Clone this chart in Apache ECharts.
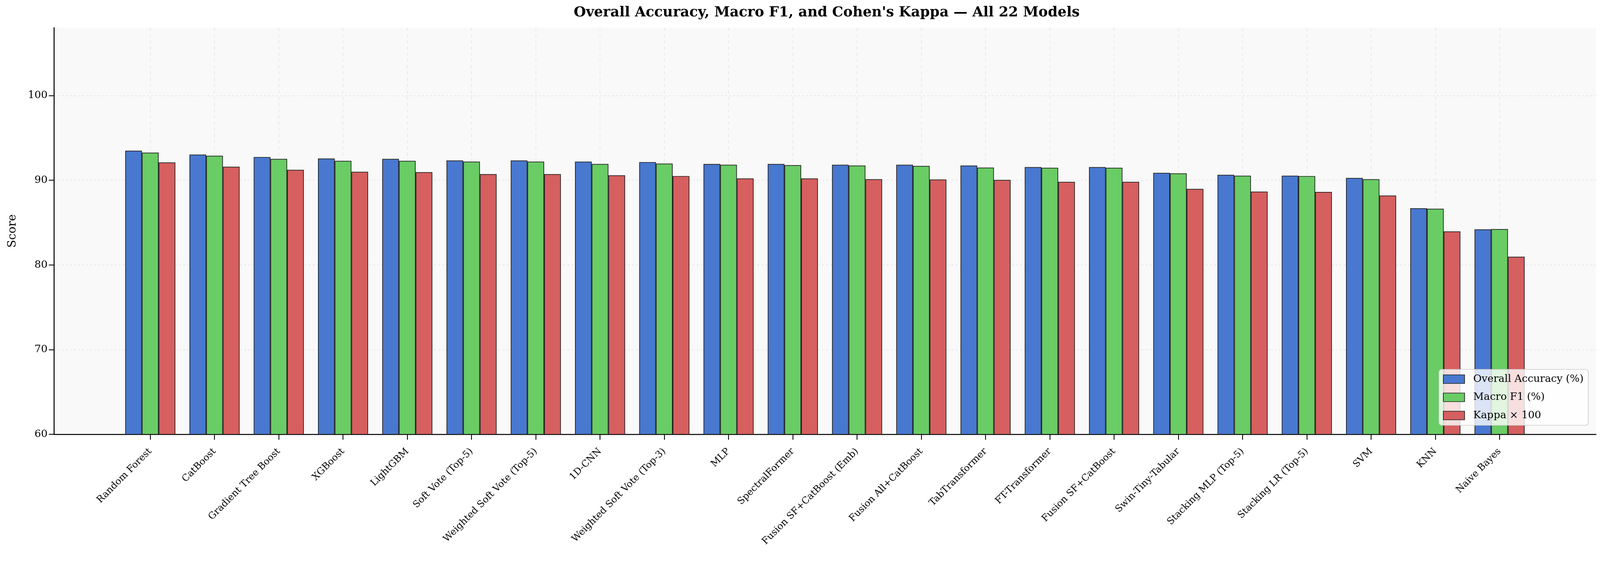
<!DOCTYPE html>
<html>
<head>
<meta charset="utf-8">
<script src="https://cdn.jsdelivr.net/npm/echarts@6/dist/echarts.min.js"></script>
<style>
html,body{margin:0;padding:0;background:#fff;overflow:hidden;}
#chart{width:100vw;height:100vh;}
</style>
</head>
<body>
<div id="chart"></div>
<script>
const models = ['Random Forest','CatBoost','Gradient Tree Boost','XGBoost','LightGBM','Soft Vote (Top-5)','Weighted Soft Vote (Top-5)','1D-CNN','Weighted Soft Vote (Top-3)','MLP','SpectralFormer','Fusion SF+CatBoost (Emb)','Fusion All+CatBoost','TabTransformer','FT-Transformer','Fusion SF+CatBoost','Swin-Tiny-Tabular','Stacking MLP (Top-5)','Stacking LR (Top-5)','SVM','KNN','Naive Bayes'];
const overallAccuracy = [93.48,93.02,92.74,92.56,92.51,92.33,92.33,92.19,92.14,91.91,91.91,91.82,91.82,91.73,91.55,91.55,90.86,90.63,90.53,90.26,86.69,84.20];
const macroF1 = [93.25,92.88,92.51,92.28,92.28,92.19,92.19,91.91,91.96,91.82,91.78,91.73,91.68,91.49,91.46,91.46,90.81,90.53,90.49,90.12,86.63,84.23];
const kappa100 = [92.10,91.59,91.22,90.99,90.95,90.72,90.72,90.58,90.49,90.21,90.21,90.12,90.08,90.03,89.80,89.80,88.97,88.65,88.61,88.19,83.95,80.96];
const yTicks = [60,70,80,90,100];
const seriesNames = ['Overall Accuracy (%)','Macro F1 (%)','Kappa \u00d7 100'];
const colors = ['#4878CF','#6ACC65','#D65F5F'];

const FONT = 'DejaVu Serif';
const cats = [''].concat(models, ['']);
const pad = arr => [null].concat(arr, [null]);
const inner = (idx) => idx > 0 && idx < cats.length - 1;

const el = document.getElementById('chart');
const W = el.clientWidth || window.innerWidth;
const H = el.clientHeight || window.innerHeight;
const sx = W / 4749, sy = H / 1448;
const X = v => v * sx;   // horizontal sizes
const Y = v => v * sy;   // vertical sizes
const F = v => v * sx;   // font sizes (keep text widths proportional)
const L = v => v * Math.min(sx, sy); // line widths

const chart = echarts.init(el, null, {renderer:'canvas'});
const mkSeries = (name, vals, color) => ({
  name: name,
  type: 'bar',
  data: pad(vals),
  barWidth: '26%',
  barGap: '0%',
  itemStyle: {color: color, borderColor: '#1e1e1e', borderWidth: L(2)},
  emphasis: {disabled: true}
});

chart.setOption({
  animation: false,
  backgroundColor: '#ffffff',
  textStyle: {fontFamily: FONT},
  title: {
    text: "Overall Accuracy, Macro F1, and Cohen's Kappa \u2014 All 22 Models",
    left: X(2448), top: Y(10), textAlign: 'center',
    textStyle: {fontFamily: FONT, fontWeight: 'bold', fontSize: F(41.5), color: '#000'}
  },
  grid: {
    left: X(160), right: X(12), top: Y(71), bottom: Y(337),
    containLabel: false, outerBoundsMode: 'none',
    show: true, backgroundColor: '#f9f9f9', borderWidth: 0
  },
  legend: {
    orient: 'vertical',
    left: X(4271), top: Y(945),
    padding: [Y(8), X(14), Y(8), X(12)],
    itemWidth: X(63), itemHeight: Y(22), itemGap: Y(12.5),
    backgroundColor: 'rgba(255,255,255,0.8)',
    borderColor: '#cccccc', borderWidth: L(2), borderRadius: L(8),
    icon: 'rect',
    itemStyle: {borderColor: '#1e1e1e', borderWidth: L(2)},
    textStyle: {fontFamily: FONT, fontSize: F(30.5), color: '#000', lineHeight: Y(34), padding: [0,0,0,X(20)]},
    data: seriesNames
  },
  xAxis: {
    type: 'category',
    data: cats,
    boundaryGap: true,
    axisLine: {show: true, lineStyle: {color: '#000', width: L(3)}},
    axisTick: {show: true, alignWithLabel: true, interval: inner, length: Y(14), lineStyle: {color: '#000', width: L(2.5)}},
    axisLabel: {interval: inner, rotate: 45, margin: Y(40), fontFamily: FONT, fontSize: F(28), color: '#000'},
    splitLine: {show: true, alignWithLabel: true, interval: inner, lineStyle: {type: [Y(8), Y(8)], color: '#e6e6e6', width: L(2)}}
  },
  yAxis: {
    type: 'value',
    min: 60, max: 108, interval: 10,
    name: 'Score', nameLocation: 'middle', nameGap: X(106),
    nameTextStyle: {fontFamily: FONT, fontSize: F(34), color: '#000'},
    axisLine: {show: true, lineStyle: {color: '#000', width: L(3)}},
    axisTick: {show: true, customValues: yTicks, length: X(15), lineStyle: {color: '#000', width: L(2.5)}},
    axisLabel: {customValues: yTicks, margin: X(19), fontFamily: FONT, fontSize: F(30.5), color: '#000'},
    splitLine: {show: true, lineStyle: {type: [X(6), X(6)], color: '#e6e6e6', width: L(2.5)}}
  },
  series: [
    mkSeries(seriesNames[0], overallAccuracy, colors[0]),
    mkSeries(seriesNames[1], macroF1, colors[1]),
    mkSeries(seriesNames[2], kappa100, colors[2])
  ]
});
window.addEventListener('resize', () => chart.resize());
</script>
</body>
</html>
